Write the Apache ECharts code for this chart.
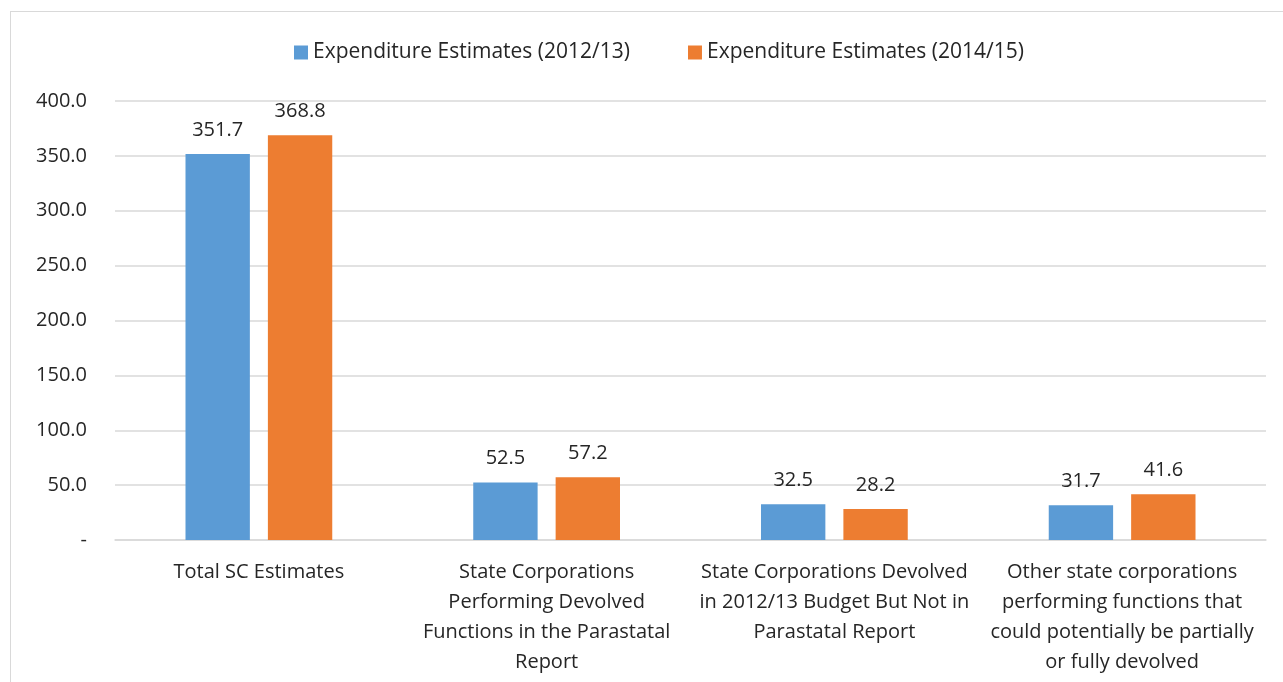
<!DOCTYPE html>
<html>
<head>
<meta charset="utf-8">
<script src="https://cdn.jsdelivr.net/npm/echarts@6/dist/echarts.min.js"></script>
<style>
  html, body { margin: 0; padding: 0; background: #fff; }
  #frame { position: absolute; left: 10px; top: 11px; width: 1290px; height: 700px; border: 1px solid #d9d9d9; box-sizing: border-box; }
  #chart { width: 1283px; height: 682px; position: absolute; left: 0; top: 0; }
</style>
</head>
<body>
<div id="frame"></div>
<div id="chart"></div>
<script>
// categories (x axis)
var categories = [
    'Total SC Estimates',
    'State Corporations\nPerforming Devolved\nFunctions in the Parastatal\nReport',
    'State Corporations Devolved\nin 2012/13 Budget But Not in\nParastatal Report',
    'Other state corporations\nperforming functions that\ncould potentially be partially\nor fully devolved'
];
var seriesNames = ['Expenditure Estimates (2012/13)', 'Expenditure Estimates (2014/15)'];
var est2012 = [351.7, 52.5, 32.5, 31.7];
var est2014 = [368.8, 57.2, 28.2, 41.6];

var fontFam = '"Open Sans", "Noto Sans", sans-serif';

var myChart = echarts.init(document.getElementById('chart'));

var barLabel = {
    show: true,
    position: 'top',
    distance: 14,
    color: '#262626',
    fontSize: 20,
    fontFamily: fontFam,
    formatter: function (p) { return p.value.toFixed(1); }
};

myChart.setOption({
    animation: false,
    textStyle: { fontFamily: fontFam },
    color: ['#5b9bd5', '#ed7d31'],
    legend: {
        top: 37,
        left: 289,
        itemWidth: 14,
        itemHeight: 14,
        itemGap: 58,
        icon: 'rect',
        textStyle: { fontSize: 21, color: '#262626', fontFamily: fontFam },
        data: seriesNames
    },
    grid: {
        left: 115,
        right: 17,
        top: 101,
        bottom: 142
    },
    xAxis: {
        type: 'category',
        data: categories,
        axisTick: { show: false },
        axisLine: { lineStyle: { color: '#d9d9d9', width: 1.5 } },
        axisLabel: {
            color: '#262626',
            fontSize: 20,
            lineHeight: 30,
            margin: 17,
            interval: 0,
            fontFamily: fontFam
        }
    },
    yAxis: {
        type: 'value',
        min: 0,
        max: 400,
        interval: 50,
        axisLine: { show: false },
        axisTick: { show: false },
        splitLine: { lineStyle: { color: '#d9d9d9', width: 1.5 } },
        axisLabel: {
            color: '#262626',
            fontSize: 20,
            margin: 28,
            fontFamily: fontFam,
            formatter: function (v) { return v === 0 ? '-' : v.toFixed(1); }
        }
    },
    series: [
        {
            name: seriesNames[0],
            type: 'bar',
            data: est2012,
            barGap: '28%',
            barCategoryGap: '49%',
            label: barLabel
        },
        {
            name: seriesNames[1],
            type: 'bar',
            data: est2014,
            label: barLabel
        }
    ]
});
</script>
</body>
</html>
